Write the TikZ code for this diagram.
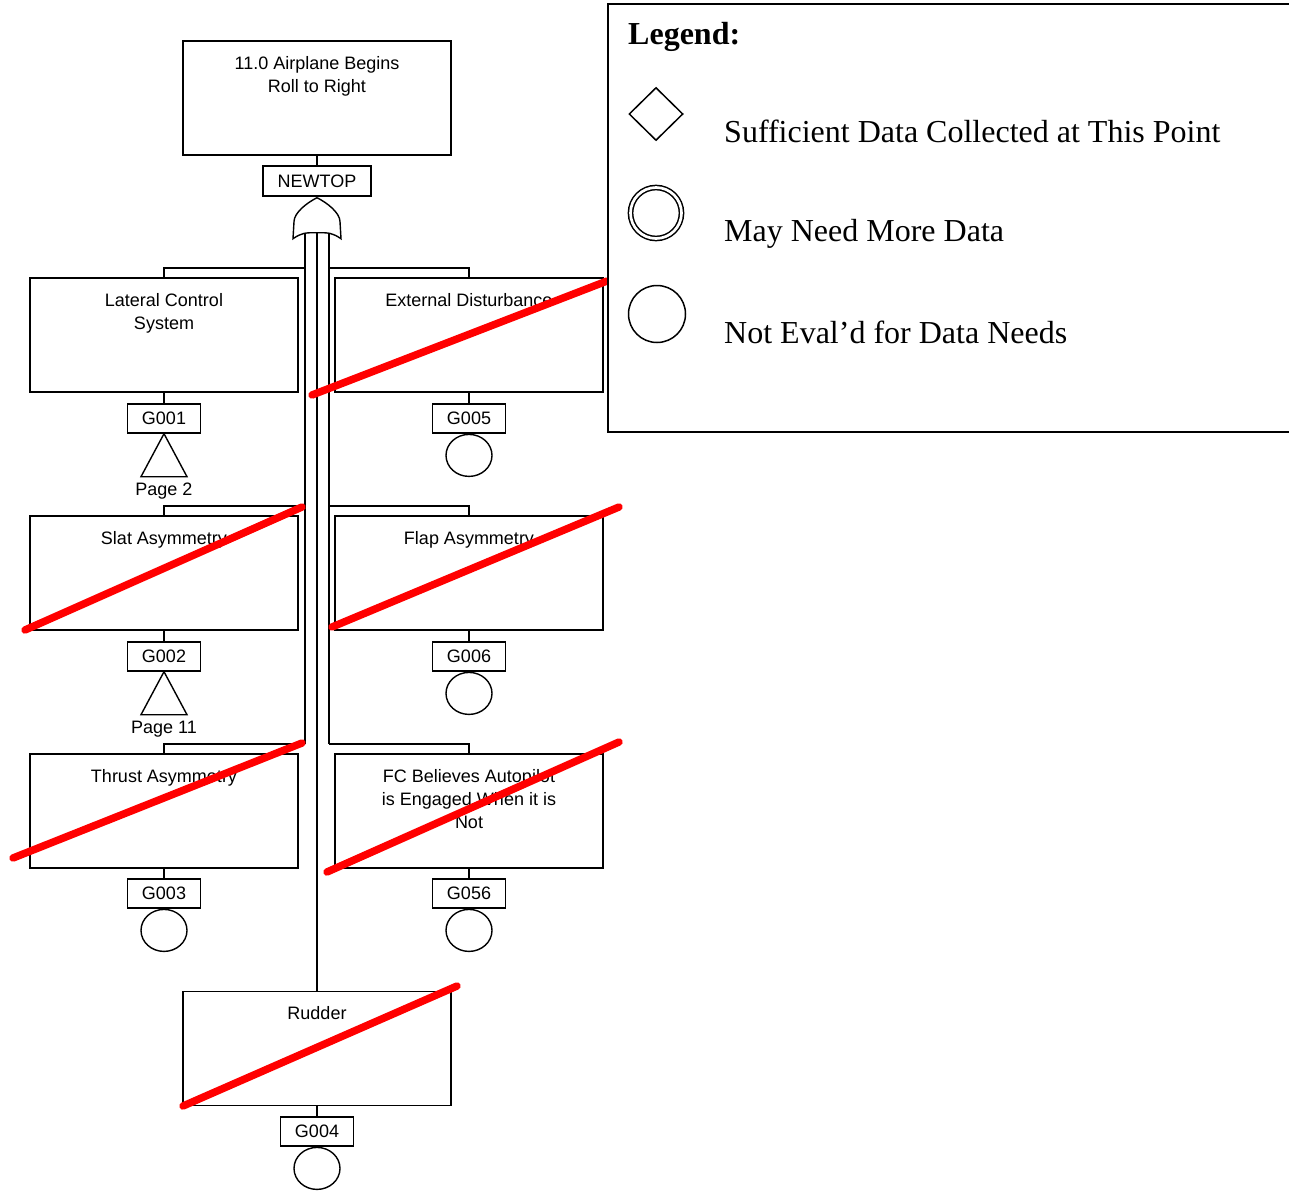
\documentclass[tikz,border=0pt]{standalone}
\usepackage{fontspec}
\setmainfont{Liberation Serif}
\newfontfamily\arialfont{Liberation Sans}
\usetikzlibrary{shapes.geometric,calc}
\newcommand\diagfont{\arialfont\fontsize{18}{23}\selectfont}
\newcommand\legfont{\fontsize{32}{38}\selectfont}
\tikzset{
  conn/.style={line width=1.4pt},
  evbox/.style={draw, line width=1.4pt, minimum width=268pt, minimum height=114pt, inner sep=0pt},
  evtext/.style={anchor=north, inner sep=0pt, align=center, font=\diagfont},
  gbox/.style={draw, line width=1.4pt, minimum width=73pt, minimum height=29pt, inner sep=0pt, font=\diagfont},
  undev/.style={draw, line width=1.4pt, ellipse, minimum width=46pt, minimum height=42pt, inner sep=0pt, anchor=north},
  xfer/.style={line width=1.4pt},
  strike/.style={draw=red, line width=7.5pt, line cap=round},
  legsym/.style={draw, line width=1.5pt, inner sep=0pt},
  legtext/.style={anchor=base west, inner sep=0pt, font=\legfont},
}
\begin{document}
\begin{tikzpicture}[x=1pt, y=-1pt]
\clip (0,0) rectangle (1289,1192);
\fill[white] (0,0) rectangle (1289,1192);

% top event and its gate label
\node[evbox] (top) at (317,98) {};
\node[evtext] (toptxt) at ($(top.north)+(0,15.5)$) {11.0 Airplane Begins\\Roll to Right};
\node[gbox, minimum width=108pt, minimum height=30pt] (newtop) at (317,181) {NEWTOP};
\draw[conn] (top.south) -- (newtop.north);
\coordinate (gtip) at ($(newtop.south)+(0,1)$);

% intermediate events
\node[evbox] (lcs) at (164,335) {};
\node[evtext] (lcstxt) at ($(lcs.north)+(0,15.5)$) {Lateral Control\\System};
\node[evbox] (ext) at (469,335) {};
\node[evtext] (exttxt) at ($(ext.north)+(0,15.5)$) {External Disturbance};
\node[evbox] (slat) at (164,573) {};
\node[evtext] (slattxt) at ($(slat.north)+(0,15.5)$) {Slat Asymmetry};
\node[evbox] (flap) at (469,573) {};
\node[evtext] (flaptxt) at ($(flap.north)+(0,15.5)$) {Flap Asymmetry};
\node[evbox] (thr) at (164,811) {};
\node[evtext] (thrtxt) at ($(thr.north)+(0,15.5)$) {Thrust Asymmetry};
\node[evbox] (fcap) at (469,811) {};
\node[evtext] (fcaptxt) at ($(fcap.north)+(0,15.5)$) {FC Believes Autopilot\\is Engaged When it is\\Not};
\node[evbox] (rud) at (317,1048.5) {};
\node[evtext] (rudtxt) at ($(rud.north)+(0,15.5)$) {Rudder};

% gate labels below each event
\node[gbox] (g001) at (164,418.5) {G001};
\node[gbox] (g005) at (469,418.5) {G005};
\node[gbox] (g002) at (164,656.5) {G002};
\node[gbox] (g006) at (469,656.5) {G006};
\node[gbox] (g003) at (164,893.5) {G003};
\node[gbox] (g056) at (469,893.5) {G056};
\node[gbox] (g004) at (317,1131.5) {G004};
\foreach \e/\g in {lcs/g001, ext/g005, slat/g002, flap/g006, thr/g003, fcap/g056, rud/g004}
  \draw[conn] (\e.south) -- (\g.north);

% undeveloped events
\node[undev] (u005) at (g005.south) {};
\node[undev] (u006) at (g006.south) {};
\node[undev] (u003) at (g003.south) {};
\node[undev] (u056) at (g056.south) {};
\node[undev] (u004) at (g004.south) {};

% transfer triangles
\draw[xfer] (g001.south) -- ++(-23,43) -- ++(46,0) -- cycle;
\node[font=\diagfont, inner sep=0pt] (pg2) at ($(g001.south)+(0,57)$) {Page 2};
\draw[xfer] (g002.south) -- ++(-23,43) -- ++(46,0) -- cycle;
\node[font=\diagfont, inner sep=0pt] (pg11) at ($(g002.south)+(0,57)$) {Page 11};

% branches out of the OR gate
\coordinate (gl) at ($(gtip)+(-12,30)$);
\coordinate (gc) at ($(gtip)+(0,30)$);
\coordinate (gr) at ($(gtip)+(12,30)$);
\coordinate (jl1) at (305,268);
\coordinate (jl2) at (305,506);
\coordinate (jl3) at (305,744);
\coordinate (jr1) at (329,268);
\coordinate (jr2) at (329,506);
\coordinate (jr3) at (329,744);
\draw[conn] (gl) -- (jl3);
\draw[conn] (gr) -- (jr3);
\draw[conn] (gc) -- (rud.north);
\draw[conn] (jl1) -| (lcs.north);
\draw[conn] (jl2) -| (slat.north);
\draw[conn] (jl3) -| (thr.north);
\draw[conn] (jr1) -| (ext.north);
\draw[conn] (jr2) -| (flap.north);
\draw[conn] (jr3) -| (fcap.north);

% OR gate
\draw[conn, fill=white] (gtip)
  .. controls +(-10,5) and +(0,-9) .. ($(gtip)+(-23,24)$)
  -- ($(gtip)+(-24,41)$)
  .. controls +(9,-6) and +(-12,0) .. ($(gtip)+(0,35)$)
  .. controls +(12,0) and +(-9,-6) .. ($(gtip)+(24,41)$)
  -- ($(gtip)+(23,24)$)
  .. controls +(0,-9) and +(10,5) .. (gtip);
\draw[conn] ($(gtip)+(-12,36.5)$) -- ($(gtip)+(-12,40)$);
\draw[conn] ($(gtip)+(0,35)$) -- ($(gtip)+(0,40)$);
\draw[conn] ($(gtip)+(12,36.5)$) -- ($(gtip)+(12,40)$);

% strike-through marks
\draw[strike] (312,395) -- (607,281);
\draw[strike] (25,630) -- (302,507);
\draw[strike] (332,627) -- (619,507);
\draw[strike] (13,858) -- (302,743);
\draw[strike] (327,872) -- (619,742);
\draw[strike] (183,1106) -- (457,986);

% legend
\draw[line width=1.5pt, fill=white] (608,4) rectangle (1300,432);
\node[legtext, font=\legfont\bfseries] (legtitle) at (628,44) {Legend:};
\node[legsym, diamond, minimum width=54pt, minimum height=53pt] (legdia) at (656,114) {};
\node[legtext] (legdiatxt) at (724,142.5) {Sufficient Data Collected at This Point};
\node[legsym, circle, double, double distance=2.7pt, minimum size=51pt] (legdbl) at (656,213) {};
\node[legtext] (legdbltxt) at (724,241.5) {May Need More Data};
\node[legsym, ellipse, minimum width=57pt, minimum height=57pt] (legcirc) at (657,314) {};
\node[legtext] (legcirctxt) at (724,343.5) {Not Eval’d for Data Needs};
\end{tikzpicture}
\end{document}
